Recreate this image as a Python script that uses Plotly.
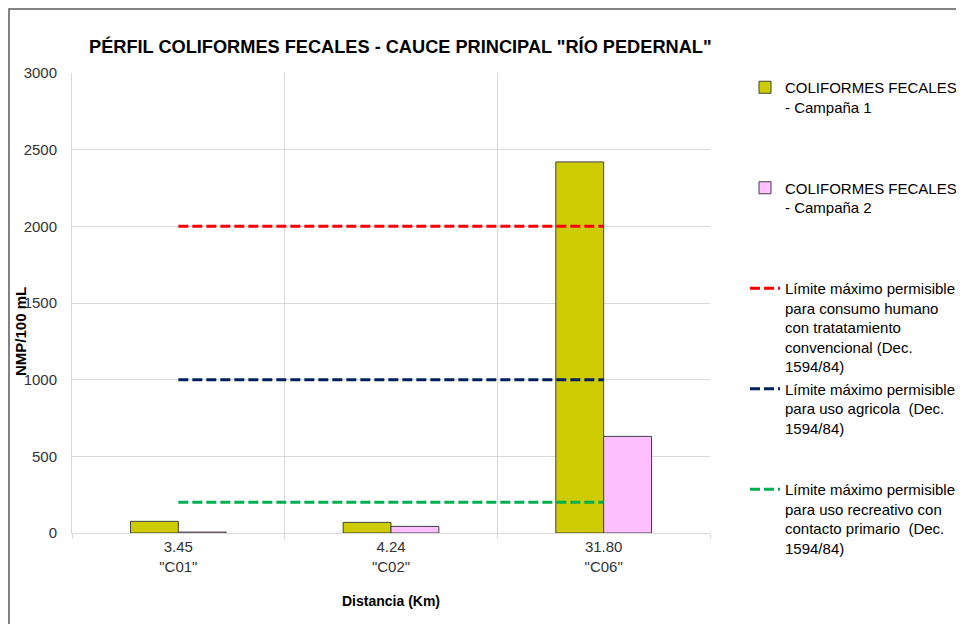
import plotly.graph_objects as go

# ---- data ----
categories = ['3.45<br>"C01"', '4.24<br>"C02"', '31.80<br>"C06"']
campana1 = [76, 69, 2420]
campana2 = [6, 43, 630]
limite_consumo = [2000, 2000, 2000]
limite_agricola = [1000, 1000, 1000]
limite_recreativo = [200, 200, 200]

NB = "\u00a0"
names = [
    "COLIFORMES FECALES<br>- Campaña 1" + ("<br>" + NB) * 3,
    "COLIFORMES FECALES<br>- Campaña 2" + ("<br>" + NB) * 3,
    "Límite máximo permisible<br>para consumo humano<br>con tratatamiento<br>convencional (Dec.<br>1594/84)",
    "Límite máximo permisible<br>para uso agricola  (Dec.<br>1594/84)" + ("<br>" + NB) * 2,
    "Límite máximo permisible<br>para uso recreativo con<br>contacto primario  (Dec.<br>1594/84)",
]

REG = "Liberation Sans, Arial"

fig = go.Figure()
fig.add_trace(go.Bar(x=categories, y=campana1, name=names[0],
                     marker=dict(color="#CCCC00", line=dict(color="#404040", width=1))))
fig.add_trace(go.Bar(x=categories, y=campana2, name=names[1],
                     marker=dict(color="#FFC0FF", line=dict(color="#404040", width=1))))
fig.add_trace(go.Scatter(x=categories, y=limite_consumo, name=names[2], mode="lines",
                         line=dict(color="#FF0000", width=3, dash="10px,4px")))
fig.add_trace(go.Scatter(x=categories, y=limite_agricola, name=names[3], mode="lines",
                         line=dict(color="#002060", width=3, dash="10px,4px")))
fig.add_trace(go.Scatter(x=categories, y=limite_recreativo, name=names[4], mode="lines",
                         line=dict(color="#00B050", width=3, dash="10px,4px")))

OFF = 8  # page body margin
W, H = 964, 624
L, T = 72 - OFF, 73 - OFF
R = W - (710 - OFF)
B = H - (533 - OFF)
pw, ph = W - L - R, H - T - B

def px_x(x):
    return (x - OFF - L) / pw

def px_y(y):
    return (H - B - (y - OFF)) / ph

fig.update_layout(
    width=W, height=H,
    margin=dict(l=L, r=R, t=T, b=B, pad=0, autoexpand=False),
    paper_bgcolor="white", plot_bgcolor="white",
    barmode="group", bargap=0.55, bargroupgap=0,
    font=dict(family=REG, size=15, color="#333333"),
    title=dict(text='PÉRFIL COLIFORMES FECALES - CAUCE PRINCIPAL "RÍO PEDERNAL"',
               x=(89 - OFF) / W, xanchor="left", y=1 - (47 - OFF) / H, yanchor="middle",
               font=dict(family=REG, size=18.2, color="#000000", weight="bold")),
    showlegend=True,
    legend=dict(x=px_x(745), xanchor="left", y=px_y(71), yanchor="top",
                valign="top", traceorder="normal", maxheight=600,
                font=dict(family=REG, size=15, color="#000000"),
                bgcolor="rgba(0,0,0,0)", borderwidth=0, tracegroupgap=0),
    xaxis=dict(type="category", tickson="boundaries", ticks="outside", ticklen=5,
               tickcolor="#D9D9D9", showgrid=True, gridcolor="#D9D9D9", gridwidth=1,
               showline=True, linecolor="#D9D9D9", linewidth=1,
               tickfont=dict(family=REG, size=15, color="#333333")),
    yaxis=dict(range=[0, 3000], dtick=500, showgrid=True, gridcolor="#D9D9D9", gridwidth=1,
               showline=True, linecolor="#D9D9D9", linewidth=1, zeroline=False,
               ticks="", ticklabelstandoff=11,
               tickfont=dict(family=REG, size=15, color="#333333")),
    annotations=[
        dict(text="NMP/100 mL", xref="paper", yref="paper", x=px_x(20), y=px_y(332),
             textangle=-90, showarrow=False, xanchor="center", yanchor="middle",
             font=dict(family=REG, size=15, color="#000000", weight="bold")),
        dict(text="Distancia (Km)", xref="paper", yref="paper", x=px_x(391), y=px_y(601),
             showarrow=False, xanchor="center", yanchor="middle",
             font=dict(family=REG, size=14, color="#000000", weight="bold")),
    ],
    shapes=[
        dict(type="rect", xref="paper", yref="paper",
             x0=px_x(OFF + 1), x1=px_x(990), y0=px_y(650), y1=px_y(OFF + 1),
             line=dict(color="#595959", width=1.5), fillcolor="rgba(0,0,0,0)", layer="below"),
    ],
)

fig.write_html("out.html")
